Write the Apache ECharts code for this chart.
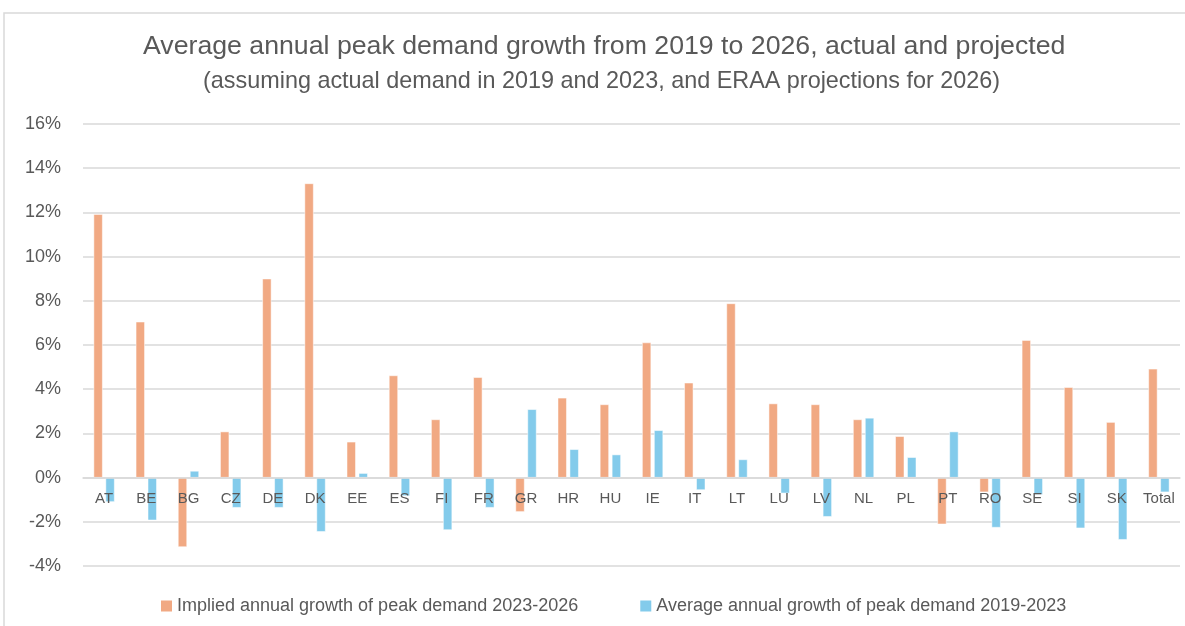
<!DOCTYPE html>
<html>
<head>
<meta charset="utf-8">
<script src="https://cdn.jsdelivr.net/npm/echarts@6/dist/echarts.min.js"></script>
<style>
html,body{margin:0;padding:0;background:#fff;}
#main{width:1185px;height:626px;}
</style>
</head>
<body>
<div id="main"></div>
<script>
// categories and values (percent)
var countries = ['AT','BE','BG','CZ','DE','DK','EE','ES','FI','FR','GR','HR','HU','IE','IT','LT','LU','LV','NL','PL','PT','RO','SE','SI','SK','Total'];
var implied = [11.92, 7.05, -3.14, 2.08, 9.0, 13.31, 1.62, 4.62, 2.63, 4.54, -1.55, 3.61, 3.31, 6.11, 4.29, 7.88, 3.35, 3.31, 2.63, 1.87, -2.11, -0.66, 6.22, 4.09, 2.51, 4.92];
var average = [-1.10, -1.93, 0.30, -1.36, -1.36, -2.45, 0.20, -0.83, -2.37, -1.36, 3.09, 1.28, 1.04, 2.14, -0.56, 0.82, -0.71, -1.77, 2.70, 0.92, 2.08, -2.26, -0.77, -2.29, -2.81, -0.66];
var seriesNames = ['Implied annual growth of peak demand 2023-2026', 'Average annual growth of peak demand 2019-2023'];

var txtFont = '"Liberation Sans", sans-serif';
var gridTop = 124, gridBottom = 60;
var yMin = -4, yMax = 16;
// move category labels up to the zero line
var plotH = 626 - gridTop - gridBottom;
var zeroOffset = -plotH * (0 - yMin) / (yMax - yMin);

var chart = echarts.init(document.getElementById('main'));
var option = {
    backgroundColor: '#fff',
    animation: false,
    color: ['#F1A983', '#83CBEB'],
    title: [{
        text: 'Average annual peak demand growth from 2019 to 2026, actual and projected',
        left: 143, top: 33, padding: 0,
        textStyle: {fontFamily: txtFont, fontSize: 26.7, fontWeight: 'normal', color: '#595959'}
    }, {
        text: '(assuming actual demand in 2019 and 2023, and ERAA projections for 2026)',
        left: 203, top: 70, padding: 0,
        textStyle: {fontFamily: txtFont, fontSize: 23.4, fontWeight: 'normal', color: '#595959'}
    }],
    legend: {
        top: 597, left: 161, padding: 0,
        icon: 'rect',
        itemWidth: 11, itemHeight: 11, itemGap: 62,
        itemStyle: {borderWidth: 0},
        textStyle: {fontFamily: txtFont, fontSize: 18, color: '#595959'},
        data: seriesNames
    },
    grid: {left: 83, right: 5, top: gridTop, bottom: gridBottom},
    xAxis: {
        type: 'category',
        data: countries,
        offset: zeroOffset,
        z: 10,
        axisLine: {onZero: false, lineStyle: {color: '#D9D9D9', width: 1.5}},
        axisTick: {show: false},
        axisLabel: {fontFamily: txtFont, fontSize: 15, color: '#595959', margin: 14, interval: 0}
    },
    yAxis: {
        type: 'value',
        min: yMin, max: yMax, interval: 2,
        axisLine: {show: false},
        axisTick: {show: false},
        splitLine: {lineStyle: {color: '#D9D9D9', width: 1.5}},
        axisLabel: {formatter: '{value}%', fontFamily: txtFont, fontSize: 18, color: '#595959', margin: 22}
    },
    series: [{
        name: seriesNames[0],
        type: 'bar',
        data: implied,
        barWidth: 9,
        barGap: '33%',
        itemStyle: {borderColor: '#fff', borderWidth: 0.5}
    }, {
        name: seriesNames[1],
        type: 'bar',
        data: average,
        barWidth: 9,
        itemStyle: {borderColor: '#fff', borderWidth: 0.5}
    }],
    graphic: [{
        type: 'rect',
        shape: {x: 4, y: 13, width: 1190, height: 630},
        style: {fill: 'none', stroke: '#D9D9D9', lineWidth: 1.5},
        silent: true
    }]
};
chart.setOption(option);
</script>
</body>
</html>
